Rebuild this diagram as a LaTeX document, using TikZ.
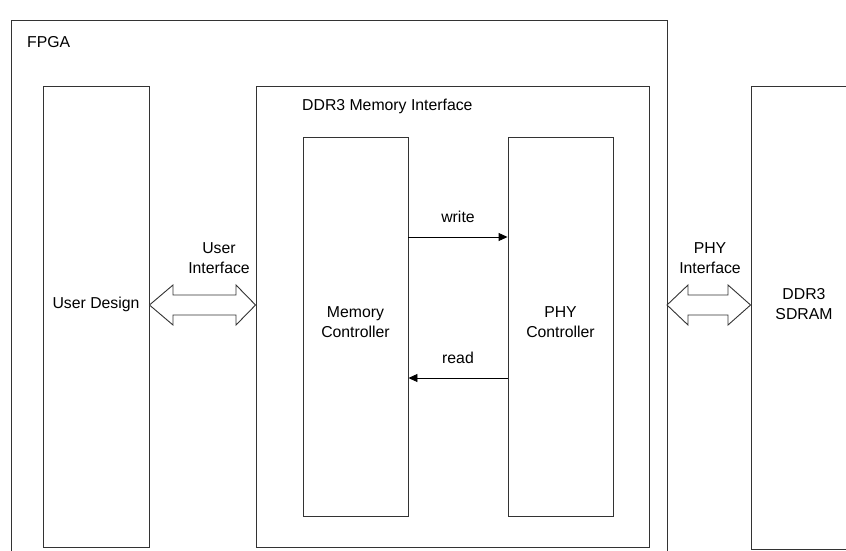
\documentclass[tikz,border=0pt]{standalone}
\usepackage{fontspec}
\setmainfont{Liberation Sans}
\usetikzlibrary{arrows.meta}
\begin{document}
\begin{tikzpicture}[x=1pt,y=-1pt,
  line/.style={draw=black!80, line width=0.9pt},
  blk/.style={line, fill=white, inner sep=0pt},
  lbl/.style={font=\fontsize{15.8}{19.5}\selectfont, align=center, inner sep=0pt},
  sig/.style={draw=black, line width=0.9pt, -{Triangle[length=9pt,width=8pt]}}]
\useasboundingbox (0,0) rectangle (846,550);
% FPGA container (open at the bottom)
\draw[line] (11,551) -- (11,20) -- (667,20) -- (667,551);
\node[lbl, anchor=west] (fpga) at (27,42) {FPGA};
% DDR3 memory interface container
\node[blk, minimum width=393pt, minimum height=461pt] (mif) at (452.5,316.5) {};
\node[lbl, anchor=west] (miflbl) at (302,106) {DDR3 Memory Interface};
% blocks
\node[blk, minimum width=106pt, minimum height=461pt] (ud) at (96,316.5) {};
\node[lbl] at (96,304) {User Design};
\node[blk, minimum width=105pt, minimum height=379pt] (mc) at (355.5,326.5) {};
\node[lbl] at (355.5,322) {Memory\\Controller};
\node[blk, minimum width=105pt, minimum height=379pt] (phy) at (560.5,326.5) {};
\node[lbl] at (560.5,322) {PHY\\Controller};
\node[blk, minimum width=106pt, minimum height=463pt] (sd) at (804,317.5) {};
\node[lbl] at (804,304) {DDR3\\SDRAM};
% write / read
\coordinate (w1) at (mc.east |- 0,237);
\coordinate (w2) at (phy.west |- 0,237);
\coordinate (r1) at (phy.west |- 0,378);
\coordinate (r2) at (mc.east |- 0,378);
\draw[sig] (w1) -- (w2);
\node[lbl] at (458,217) {write};
\draw[sig] (r1) -- (r2);
\node[lbl] at (458,358) {read};
% double arrows
\draw[line, fill=white] (ud.east |- 0,305) -- (173,285) -- (173,295) -- (236,295) -- (236,285)
  -- (mif.west |- 0,305) -- (236,325) -- (236,315) -- (173,315) -- (173,325) -- cycle;
\node[lbl] at (219,258) {User\\Interface};
\draw[line, fill=white] (667,305) -- (688,285) -- (688,295) -- (728,295) -- (728,285)
  -- (sd.west |- 0,305) -- (728,325) -- (728,315) -- (688,315) -- (688,325) -- cycle;
\node[lbl] at (710,258) {PHY\\Interface};
\end{tikzpicture}
\end{document}
